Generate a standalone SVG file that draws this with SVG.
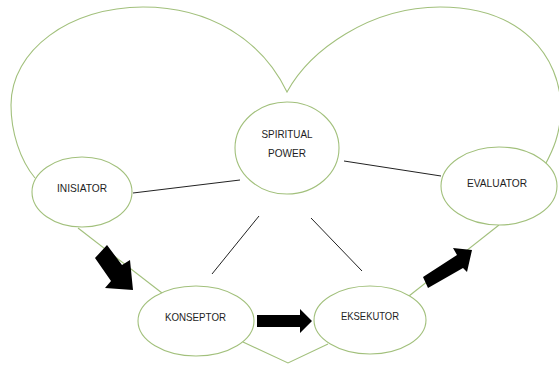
<svg xmlns="http://www.w3.org/2000/svg" width="559" height="365" viewBox="0 0 559 365">
  <style>
    .outline { fill: none; stroke: #a2c07c; stroke-width: 1.1; }
    .node ellipse { fill: #ffffff; stroke: #a2c07c; stroke-width: 1.1; }
    .node text { font-family: "Liberation Sans", Arial, sans-serif; font-size: 11.5px; fill: #1e1e1e; text-anchor: middle; }
    .link { stroke: #222222; stroke-width: 1; fill: none; }
    .block { fill: #000000; stroke: none; }
  </style>
  <rect width="559" height="365" fill="#ffffff"/>

  <!-- heart-shaped outline running through the cycle -->
  <g id="heart">
    <path class="outline" d="M 35,178 C 20,160 11,132 11,105 C 11,50 70,7 143,7 C 210,7 262,40 287,92 C 310,50 370,7 440,7 C 520,7 561,55 561,110 C 560,135 553,150 545,165"/>
    <path class="outline" d="M 78,228 L 162,293"/>
    <path class="outline" d="M 243,342 L 288,363 L 328,344"/>
    <path class="outline" d="M 409,296 L 499,225"/>
  </g>

  <!-- connectors -->
  <g id="connectors">
    <line class="link" x1="133" y1="193" x2="240" y2="180"/>
    <line class="link" x1="344" y1="161" x2="441" y2="176"/>
    <line class="link" x1="259" y1="216" x2="212" y2="274"/>
    <line class="link" x1="311" y1="218" x2="362" y2="271"/>
    <polygon class="block" points="107,245 122,265 130,260 133,290 105,288 111,281 95,258"/>
    <polygon class="block" points="257,315 300,315 300,309 312,321 300,333 300,327 257,327"/>
    <polygon class="block" points="423,277 457,255 453,248 472,250 467,272 463,268 428,288"/>
  </g>

  <g id="spiritual-power" class="node">
    <ellipse cx="287" cy="148" rx="52" ry="46"/>
    <text x="287" y="138" textLength="51" lengthAdjust="spacingAndGlyphs">SPIRITUAL</text>
    <text x="287" y="157" textLength="38" lengthAdjust="spacingAndGlyphs">POWER</text>
  </g>

  <g id="inisiator" class="node">
    <ellipse cx="82" cy="192" rx="50" ry="35"/>
    <text x="82" y="192" textLength="50" lengthAdjust="spacingAndGlyphs">INISIATOR</text>
  </g>

  <g id="konseptor" class="node">
    <ellipse cx="196" cy="321" rx="58" ry="35"/>
    <text x="195.5" y="321" textLength="61" lengthAdjust="spacingAndGlyphs">KONSEPTOR</text>
  </g>

  <g id="eksekutor" class="node">
    <ellipse cx="370" cy="320" rx="56" ry="34"/>
    <text x="370" y="320" textLength="58" lengthAdjust="spacingAndGlyphs">EKSEKUTOR</text>
  </g>

  <g id="evaluator" class="node">
    <ellipse cx="499" cy="186" rx="58" ry="39"/>
    <text x="497" y="187" textLength="60" lengthAdjust="spacingAndGlyphs">EVALUATOR</text>
  </g>
</svg>
